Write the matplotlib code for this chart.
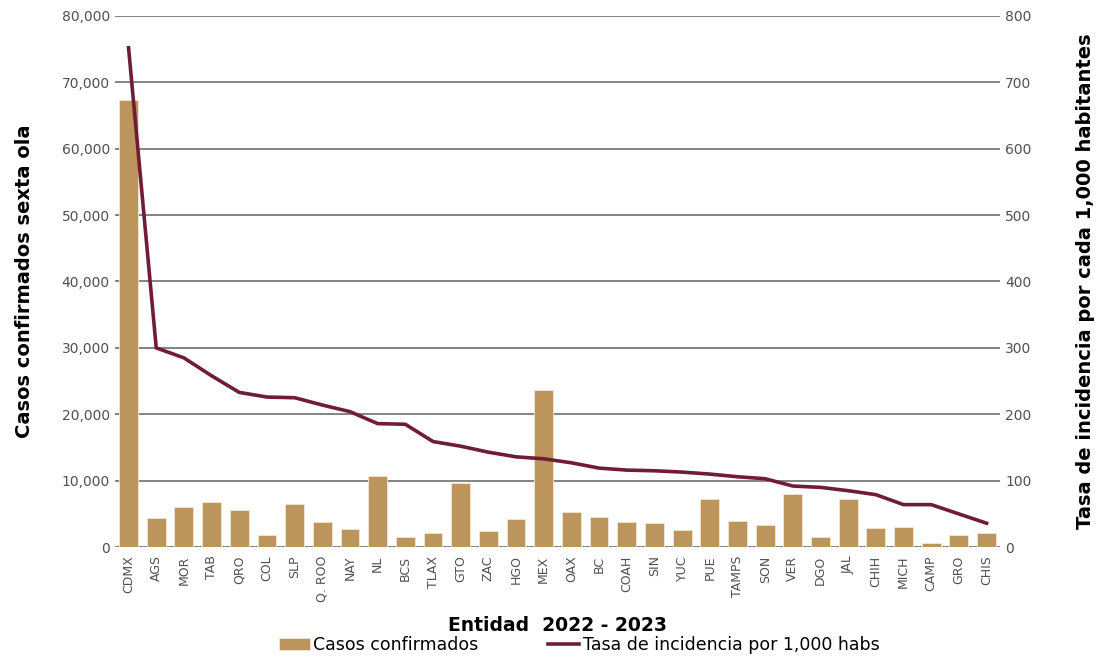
import matplotlib.pyplot as plt
import numpy as np
from matplotlib.ticker import FuncFormatter, MultipleLocator

estados = ["CDMX", "AGS", "MOR", "TAB", "QRO", "COL", "SLP", "Q. ROO", "NAY", "NL",
           "BCS", "TLAX", "GTO", "ZAC", "HGO", "MEX", "OAX", "BC", "COAH", "SIN",
           "YUC", "PUE", "TAMPS", "SON", "VER", "DGO", "JAL", "CHIH", "MICH", "CAMP",
           "GRO", "CHIS"]
casos = [67300, 4400, 6000, 6800, 5600, 1800, 6500, 3800, 2700, 10700,
         1500, 2100, 9700, 2400, 4200, 23700, 5300, 4500, 3800, 3600,
         2600, 7200, 3900, 3300, 8000, 1600, 7300, 2900, 3100, 600,
         1800, 2100]
tasa = [752, 300, 285, 258, 233, 226, 225, 214, 204, 186,
        185, 159, 152, 143, 136, 133, 127, 119, 116, 115,
        113, 110, 106, 103, 92, 90, 85, 79, 64, 64,
        50, 36]

BAR_COLOR = "#BC955C"
LINE_COLOR = "#6F1D36"

fig = plt.figure(figsize=(11.03, 6.6), dpi=100)
ax = fig.add_axes([0.104, 0.171, 0.803, 0.805])
ax2 = ax.twinx()

x = np.arange(len(estados))
bars = ax.bar(x, casos, width=0.68, color=BAR_COLOR, edgecolor="#F3E6D2",
              linewidth=0.6, zorder=2, label="Casos confirmados")
line, = ax2.plot(x, tasa, color=LINE_COLOR, linewidth=2.6, zorder=3,
                 label="Tasa de incidencia por 1,000 habs")

ax.set_xlim(-0.5, len(estados) - 0.5)
ax.set_ylim(0, 80000)
ax2.set_ylim(0, 800)
ax.yaxis.set_major_locator(MultipleLocator(10000))
ax2.yaxis.set_major_locator(MultipleLocator(100))
ax.yaxis.set_major_formatter(FuncFormatter(lambda v, p: f"{int(v):,}"))

ax.grid(axis="y", color="#6E6E6E", linewidth=1.2, zorder=0)
ax.set_axisbelow(True)
for a in (ax, ax2):
    for s in a.spines.values():
        s.set_visible(False)
    a.tick_params(length=0, labelsize=10, colors="#505050")

ax.set_xticks(x)
ax.set_xticklabels(estados, rotation=90, fontsize=9, color="#505050")
ax.tick_params(axis="x", pad=6)

ax.set_ylabel("Casos confirmados sexta ola", fontsize=14, fontweight="bold", labelpad=20)
ax2.set_ylabel("Tasa de incidencia por cada 1,000 habitantes", fontsize=14,
               fontweight="bold", labelpad=32)
ax.set_xlabel("Entidad  2022 - 2023", fontsize=13.5, fontweight="bold", labelpad=10)

fig.legend(handles=[bars, line], loc="lower center", ncol=2, frameon=False,
           fontsize=12.5, bbox_to_anchor=(0.525, -0.015), handlelength=1.8,
           handletextpad=0.2, columnspacing=4)

fig.savefig("out.png", dpi=100)
